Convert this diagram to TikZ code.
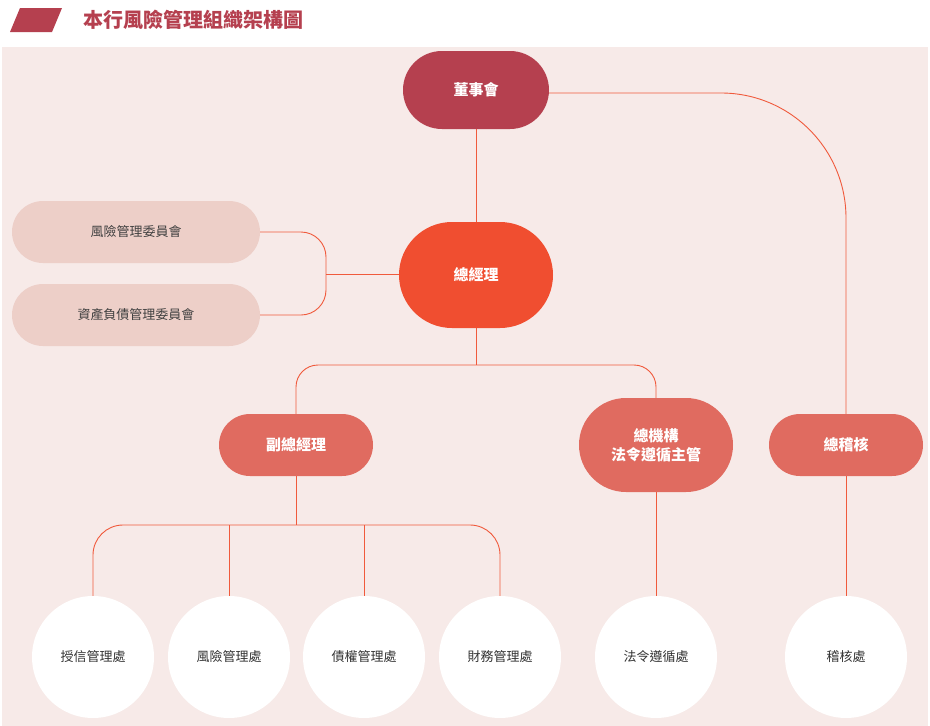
\documentclass[tikz,border=0pt]{standalone}
\usepackage{fontspec}
\setmainfont{Noto Sans CJK TC}
\begin{document}
\begin{tikzpicture}[x=1pt,y=-1pt,
  ln/.style={draw=lnc,line width=0.9pt},
  pill/.style={rounded corners=#1,minimum width=154pt,inner sep=0pt,text=white,font=\fontsize{15}{19}\selectfont\bfseries,align=center},
  comm/.style={fill=commc,rounded corners=31pt,minimum width=248pt,minimum height=62pt,inner sep=0pt,text=black!75,font=\fontsize{13}{16}\selectfont},
  circ/.style={circle,fill=white,minimum size=122pt,inner sep=0pt,text=black!80,font=\fontsize{13}{16}\selectfont}]
\definecolor{lnc}{HTML}{F05A3C}
\definecolor{commc}{HTML}{EDCFC8}
\definecolor{bgc}{HTML}{F7EAE8}
\definecolor{boardc}{HTML}{B5404F}
\definecolor{gmc}{HTML}{F04E30}
\definecolor{midc}{HTML}{E06B60}
\definecolor{titc}{HTML}{B5404F}
\useasboundingbox (0,0) rectangle (930,726);
\fill[white] (0,0) rectangle (930,726);
\fill[bgc] (2,47) rectangle (928,726);
\fill[boardc] (20,8) -- (62,8) -- (52,32) -- (10,32) -- cycle;
\node[anchor=west,text=titc,font=\fontsize{20}{24}\selectfont\bfseries] (title) at (80,20) {本行風險管理組織架構圖};
\node[pill=39pt,fill=boardc,minimum width=146pt,minimum height=78pt] (board) at (476,90) {董事會};
\node[pill=53pt,fill=gmc,minimum height=106pt] (gm) at (476,275) {總經理};
\node[comm] (c1) at (136,232) {風險管理委員會};
\node[comm] (c2) at (136,315) {資產負債管理委員會};
\node[pill=31pt,fill=midc,minimum height=62pt] (vp) at (296,445) {副總經理};
\node[pill=47pt,fill=midc,minimum height=94pt] (cc) at (656,445) {總機構\\法令遵循主管};
\node[pill=31pt,fill=midc,minimum height=62pt] (au) at (846,445) {總稽核};
\node[circ] (d1) at (93,657) {授信管理處};
\node[circ] (d2) at (229,657) {風險管理處};
\node[circ] (d3) at (364,657) {債權管理處};
\node[circ] (d4) at (500,657) {財務管理處};
\node[circ] (d5) at (656,657) {法令遵循處};
\node[circ] (d6) at (846,657) {稽核處};
\coordinate (j1) at (476,365);
\coordinate (j2) at (296,525);
\coordinate (j3) at (326,274);
\draw[ln] (board) -- (gm);
\draw[ln,rounded corners=125pt] (board.east |- 0,93) -- (846,93) -- (au.north);
\draw[ln,rounded corners=25pt] (c1.east) -- (326,232) -- (326,315) -- (c2.east);
\draw[ln] (j3) -- (gm.west |- j3);
\draw[ln] (gm.south) -- (j1);
\draw[ln,rounded corners=22pt] (vp.north) -- (296,365) -- (656,365) -- (cc.north);
\draw[ln] (vp.south) -- (j2);
\draw[ln,rounded corners=30pt] (d1.north) -- (93,525) -- (500,525) -- (d4.north);
\draw[ln] (229,525) -- (d2.north);
\draw[ln] (364,525) -- (d3.north);
\draw[ln] (cc.south) -- (d5.north);
\draw[ln] (au.south) -- (d6.north);
\end{tikzpicture}
\end{document}
